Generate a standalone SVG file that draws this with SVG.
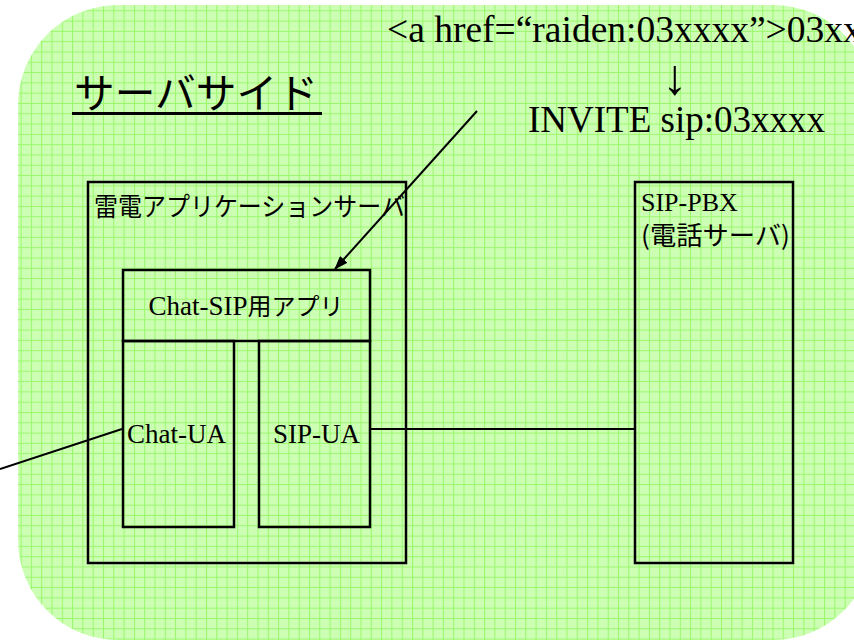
<svg xmlns="http://www.w3.org/2000/svg" width="854" height="642" viewBox="0 0 854 642">
<defs>
<pattern id="grid" x="0" y="0" width="10.3" height="10.3" patternUnits="userSpaceOnUse">
<rect width="10.3" height="10.3" fill="#ccffb4"/>
<path d="M0 0.5 H10.3 M0.5 0 V10.3" stroke="#99f76a" stroke-width="1" fill="none"/>
</pattern>
<marker id="ah" markerWidth="14" markerHeight="10" refX="13" refY="5" orient="auto" markerUnits="userSpaceOnUse">
<path d="M0 0 L14 5 L0 10 Z" fill="#000"/>
</marker>
<style>
.box{fill:none;stroke:#000;stroke-width:2.5}
.ln{fill:none;stroke:#000;stroke-width:2}
.serif{font-family:"Liberation Serif",serif;fill:#000}
.jp{font-family:"Noto Sans CJK JP",sans-serif;fill:#000}
</style>
</defs>
<g id="background">
<rect x="18" y="5" width="855" height="635" rx="100" ry="100" fill="url(#grid)"/>
</g>
<g id="title">
<text class="jp" x="74" y="108" font-size="41" textLength="244" lengthAdjust="spacingAndGlyphs">サーバサイド</text>
<line x1="72" y1="113.5" x2="322" y2="113.5" stroke="#000" stroke-width="3"/>
</g>
<g id="note">
<text class="serif" font-family="Liberation Serif, serif" x="387" y="42" font-size="37.5">&lt;a href=“raiden:03xxxx”&gt;03xx</text>
<text class="serif" font-family="Liberation Serif, serif" x="675" y="94" font-size="50" text-anchor="middle">↓</text>
<text class="serif" font-family="Liberation Serif, serif" x="528" y="132" font-size="37">INVITE sip:03xxxx</text>
</g>
<g id="app-server">
<rect class="box" x="88" y="182" width="318" height="381"/>
<text class="jp" x="94" y="216" font-size="26" textLength="311" lengthAdjust="spacingAndGlyphs">雷電アプリケーションサーバ</text>
</g>
<g id="chat-sip-app">
<rect class="box" x="123" y="270" width="247" height="71"/>
<text class="serif" font-family="Liberation Serif, serif" x="246" y="315" font-size="27" text-anchor="middle">Chat-SIP<tspan font-family="Noto Sans CJK JP, sans-serif" font-size="24">用アプリ</tspan></text>
</g>
<g id="chat-ua">
<rect class="box" x="123" y="341" width="111" height="186"/>
<text class="serif" font-family="Liberation Serif, serif" x="127" y="443" font-size="27">Chat-UA</text>
</g>
<g id="sip-ua">
<rect class="box" x="259" y="341" width="111" height="186"/>
<text class="serif" font-family="Liberation Serif, serif" x="273" y="443" font-size="27">SIP-UA</text>
</g>
<g id="sip-pbx">
<rect class="box" x="635" y="182" width="158" height="381"/>
<text class="serif" font-family="Liberation Serif, serif" x="641" y="211" font-size="26">SIP-PBX</text>
<text class="jp" x="641" y="245" font-size="26" textLength="149" lengthAdjust="spacingAndGlyphs">(電話サーバ)</text>
</g>
<g id="connectors">
<line class="ln" x1="477" y1="111" x2="335" y2="269" marker-end="url(#ah)"/>
<line class="ln" x1="122" y1="429" x2="0" y2="469"/>
<line class="ln" x1="370" y1="429" x2="635" y2="429"/>
</g>
</svg>
